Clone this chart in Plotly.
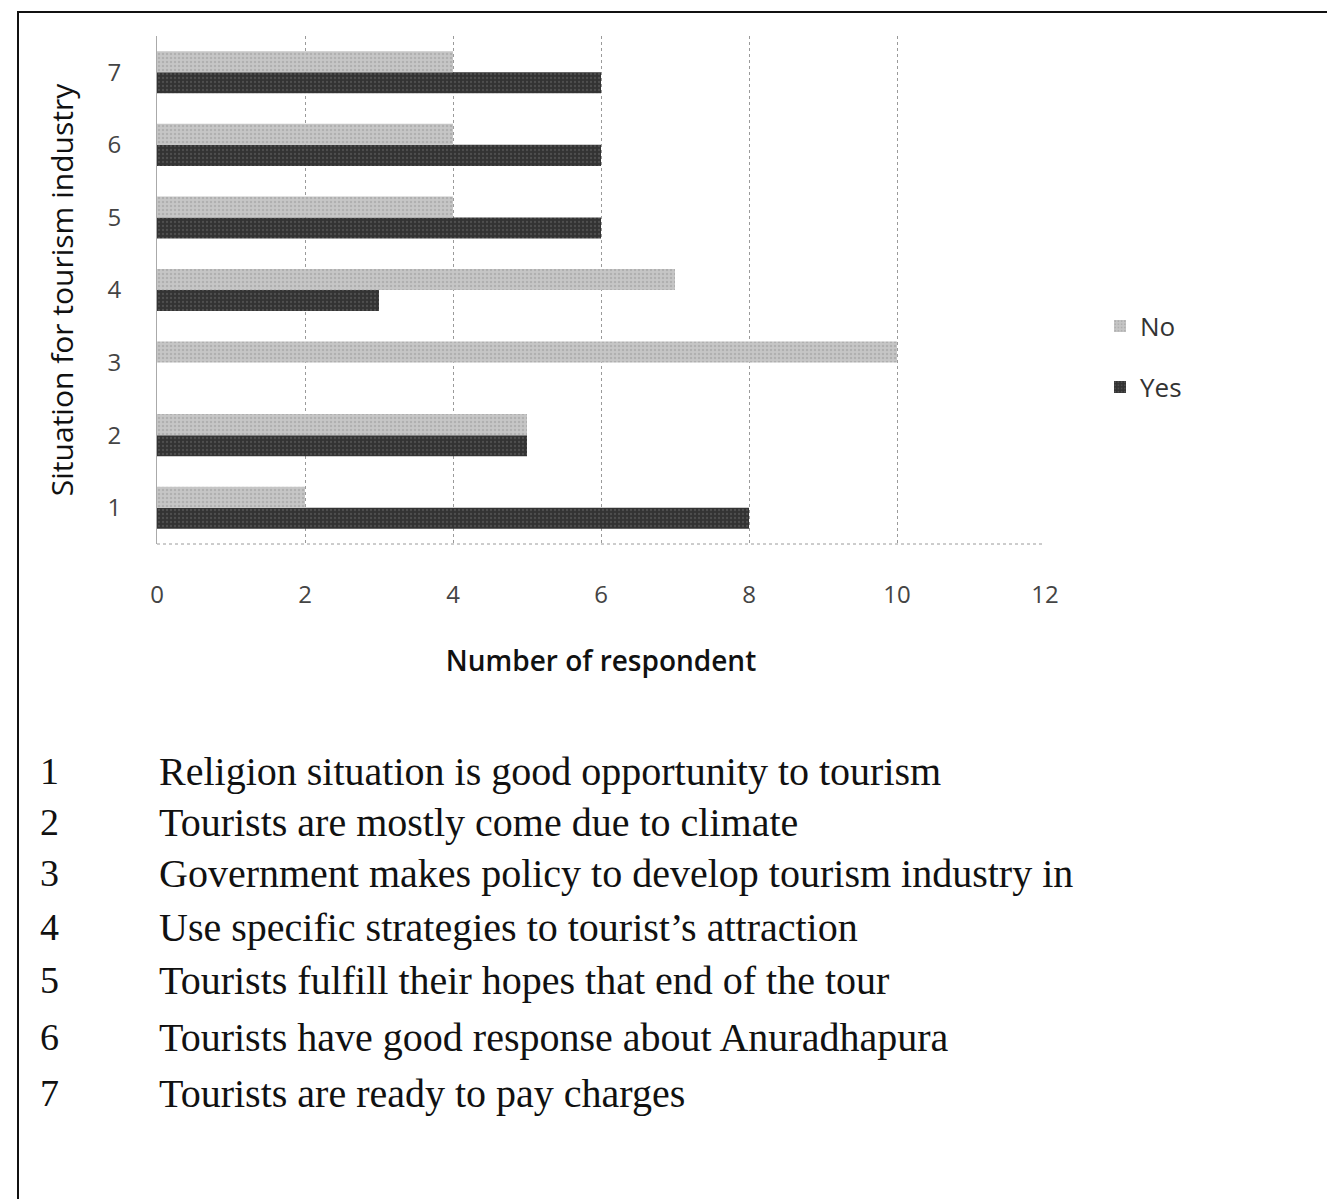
import plotly.graph_objects as go

categories = ["1", "2", "3", "4", "5", "6", "7"]
no_values = [2, 5, 10, 7, 4, 4, 4]
yes_values = [8, 5, 0, 3, 6, 6, 6]
x_ticks = [0, 2, 4, 6, 8, 10, 12]
item_numbers = ["1", "2", "3", "4", "5", "6", "7"]
item_labels = [
    "Religion situation is good opportunity to tourism",
    "Tourists are mostly come due to climate",
    "Government makes policy to develop tourism industry in",
    "Use specific strategies to tourist\u2019s attraction",
    "Tourists fulfill their hopes that end of the tour",
    "Tourists have good response about Anuradhapura",
    "Tourists are ready to pay charges",
]

OFF = 8  # page body margin
W, H = 1335 - OFF, 1199 - OFF
# plot area in reference pixels: x 157..1045, y 36..544
L = 157 - OFF
T = 36 - OFF
R = W - (1045 - OFF)
B = H - (544 - OFF)
PW, PH = W - L - R, H - T - B


def px_x(px):
    return (px - OFF - L) / PW


def px_y(py):
    return (H - B - (py - OFF)) / PH


fig = go.Figure()
fig.add_trace(go.Bar(
    y=categories, x=yes_values, name="Yes", orientation="h",
    marker=dict(color="#333333", line=dict(width=0),
                pattern=dict(shape=".", fgcolor="#6a6a6a", size=4, solidity=0.25)),
    legend="legend2",
))
fig.add_trace(go.Bar(
    y=categories, x=no_values, name="No", orientation="h",
    marker=dict(color="#c6c6c6", line=dict(width=0),
                pattern=dict(shape=".", fgcolor="#9a9a9a", size=4, solidity=0.3)),
    legend="legend",
))

sans = "Open Sans"
fig.update_layout(
    width=W, height=H,
    margin=dict(l=L, r=R, t=T, b=B),
    paper_bgcolor="white", plot_bgcolor="white",
    barmode="group", bargap=0.42, bargroupgap=0.0,
    font=dict(family=sans, color="#222222"),
    xaxis=dict(
        range=[0, 12], tickvals=x_ticks, ticks="",
        showgrid=True, gridcolor="#9a9a9a", griddash="dot", gridwidth=1,
        zeroline=False, showline=False,
        tickfont=dict(size=24, color="#444444", family=sans),
        ticklabelstandoff=34,
        title=dict(text="Number of respondent", standoff=42,
                   font=dict(size=28, color="#111111", family=sans, weight=600)),
    ),
    yaxis=dict(
        type="category", categoryorder="array", categoryarray=categories,
        range=[-0.5, 6.5], ticks="",
        showgrid=False, zeroline=False,
        showline=True, linecolor="#aaaaaa", linewidth=1,
        tickfont=dict(size=24, color="#444444", family=sans),
        ticklabelstandoff=30,
        title=dict(text="Situation for tourism industry", standoff=24,
                   font=dict(size=30, color="#111111", family=sans)),
    ),
    legend=dict(x=px_x(1100), y=px_y(326), xanchor="left", yanchor="middle",
                font=dict(size=26, color="#333333", family=sans),
                bgcolor="rgba(0,0,0,0)", itemwidth=30),
    legend2=dict(x=px_x(1100), y=px_y(387), xanchor="left", yanchor="middle",
                 font=dict(size=26, color="#333333", family=sans),
                 bgcolor="rgba(0,0,0,0)", itemwidth=30),
    showlegend=True,
)

# bottom dotted baseline
fig.add_shape(type="line", xref="x", yref="paper", x0=0, x1=12, y0=0, y1=0,
              line=dict(color="#9a9a9a", width=1, dash="dot"))

# outer border
fig.add_shape(type="rect", xref="paper", yref="paper",
              x0=px_x(18), x1=px_x(1330), y0=px_y(1215), y1=px_y(12),
              line=dict(color="#111111", width=2), fillcolor="rgba(0,0,0,0)",
              layer="below")

row_y = [771, 822, 873, 927, 980, 1037, 1093]
serif = "Liberation Serif"
for num, lab, py in zip(item_numbers, item_labels, row_y):
    fig.add_annotation(x=px_x(38), y=px_y(py), xref="paper", yref="paper",
                       text=num, showarrow=False, xanchor="left", yanchor="middle",
                       font=dict(size=38, family=serif, color="#111111"))
    fig.add_annotation(x=px_x(157), y=px_y(py), xref="paper", yref="paper",
                       text=lab, showarrow=False, xanchor="left", yanchor="middle",
                       font=dict(size=40, family=serif, color="#111111"))

fig.write_html("out.html")
